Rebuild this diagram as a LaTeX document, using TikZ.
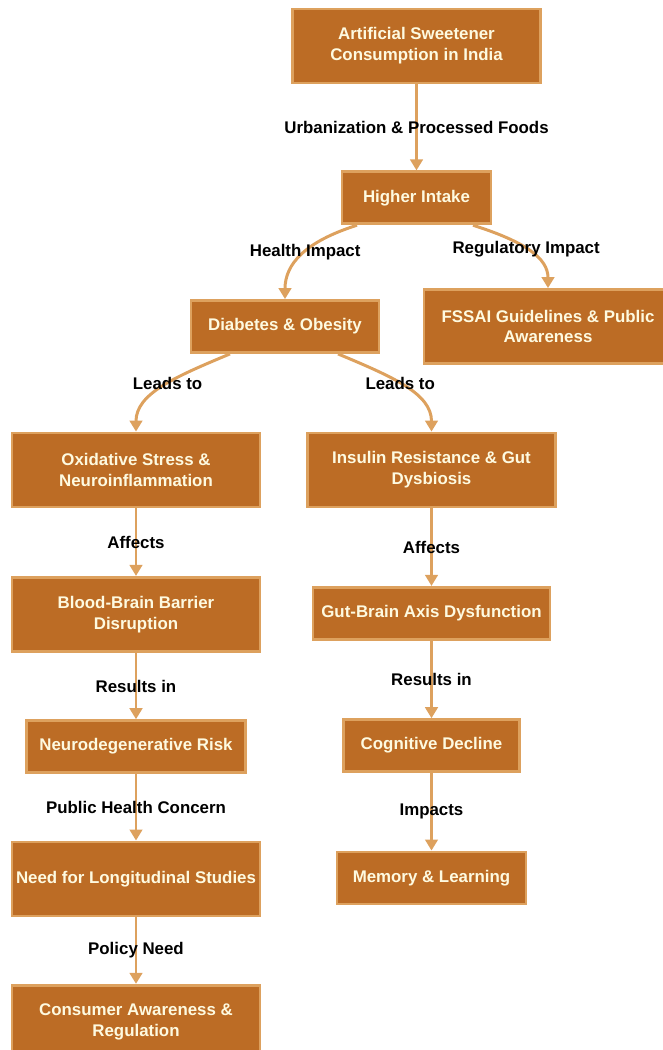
\documentclass[tikz,border=0pt]{standalone}
\usepackage{fontspec}
\setmainfont{Liberation Sans}
\usetikzlibrary{arrows.meta,positioning}
\definecolor{boxfill}{HTML}{BC6C25}
\definecolor{boxline}{HTML}{DDA15E}
\definecolor{boxtext}{HTML}{FEFAE0}

\begin{document}
\begin{tikzpicture}[
 box/.style={draw=boxline,fill=boxfill,line width=1.6pt,text=boxtext,
 minimum height=1.04cm,inner xsep=0.05cm,align=center,
 font=\fontsize{9.6}{11.9}\selectfont\bfseries},
 wide/.style={box,minimum width=4.96cm},
 tall/.style={wide,minimum height=1.48cm},
 arr/.style={-{Triangle[length=0.22cm,width=0.25cm]},line width=1.7pt,draw=boxline},
 lbl/.style={font=\fontsize{9.6}{11.9}\selectfont\bfseries,text=black}]
\useasboundingbox (0,0) rectangle (13.24,-21);
\node[tall] (src) at (8.33,-0.92) {Artificial Sweetener\\Consumption in India};
\node[box,minimum width=2.98cm,below=1.72cm of src] (intake) {Higher Intake};
\node[box,minimum width=3.76cm] (diab) at (5.7,-6.53) {Diabetes \& Obesity};
\node[tall] (fssai) at (10.96,-6.53) {FSSAI Guidelines \& Public\\Awareness};
\node[tall] (oxid) at (2.72,-9.4) {Oxidative Stress \&\\Neuroinflammation};
\node[tall] (insul) at (8.63,-9.4) {Insulin Resistance \& Gut\\Dysbiosis};
% left branch
\node[tall,below=1.35cm of oxid] (bbb) {Blood-Brain Barrier\\Disruption};
\node[box,minimum width=4.38cm,below=1.33cm of bbb] (neuro) {Neurodegenerative Risk};
\node[tall,below=1.33cm of neuro] (longi) {Need for Longitudinal Studies};
\node[tall,below=1.33cm of longi] (cons) {Consumer Awareness \&\\Regulation};
% right branch
\node[box,minimum width=4.74cm,below=1.55cm of insul] (gba) {Gut-Brain Axis Dysfunction};
\node[box,minimum width=3.52cm,below=1.55cm of gba] (cogn) {Cognitive Decline};
\node[box,minimum width=3.78cm,below=1.55cm of cogn] (mem) {Memory \& Learning};
\draw[arr] (src) -- node[lbl] {Urbanization \& Processed Foods} (intake);
\draw[arr] ([xshift=-1.19cm]intake.south) .. controls +(-1.04,-0.33) and +(0,0.7) .. node[lbl,pos=0.45] {Health Impact} (diab.north);
\draw[arr] ([xshift=1.13cm]intake.south) .. controls +(1.04,-0.33) and +(0,0.6) .. node[lbl,pos=0.45] {Regulatory Impact} (fssai.north);
\draw[arr] ([xshift=-1.1cm]diab.south) .. controls +(-1.1,-0.46) and +(0,0.76) .. node[lbl,pos=0.45] {Leads to} (oxid.north);
\draw[arr] ([xshift=1.06cm]diab.south) .. controls +(1.1,-0.46) and +(0,0.76) .. node[lbl,pos=0.45] {Leads to} (insul.north);
\draw[arr] (oxid) -- node[lbl] {Affects} (bbb);
\draw[arr] (bbb) -- node[lbl] {Results in} (neuro);
\draw[arr] (neuro) -- node[lbl] {Public Health Concern} (longi);
\draw[arr] (longi) -- node[lbl] {Policy Need} (cons);
\draw[arr] (insul) -- node[lbl] {Affects} (gba);
\draw[arr] (gba) -- node[lbl] {Results in} (cogn);
\draw[arr] (cogn) -- node[lbl] {Impacts} (mem);
\end{tikzpicture}
\end{document}
